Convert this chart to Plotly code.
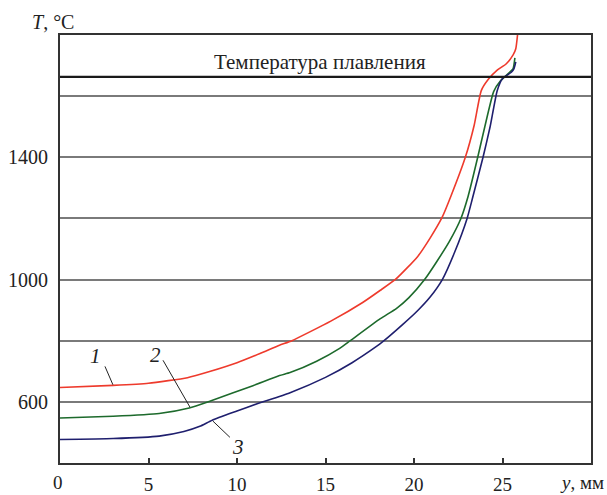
import plotly.graph_objects as go

# ---- data ----
x_tick_vals = [0, 5, 10, 15, 20, 25]
x_tick_text = ["0", "5", "10", "15", "20", "25"]
y_grid_vals = [600, 800, 1000, 1200, 1400, 1600]
y_tick_text = ["600", "", "1000", "", "1400", ""]
melting_temp = 1663
melting_label = "Температура плавления"

x1 = [0, 3, 5, 7.2, 8.5, 10, 11.3, 12.4, 13.1, 15.3, 17.1, 18.1, 19.0, 20.2, 20.9, 21.6,
      22.1, 22.9, 23.4, 23.8, 24.2, 24.7, 25.2, 25.6, 25.75, 25.9]
T1 = [647, 654, 661, 679, 700, 728, 758, 785, 800, 864, 925, 965, 1003, 1075, 1135, 1205,
      1275, 1400, 1505, 1618, 1655, 1685, 1705, 1735, 1755, 1830]

x2 = [0, 3, 5.6, 7.3, 8.5, 10.9, 12.4, 13.0, 14.5, 15.8, 16.4, 18.1, 19.0, 19.7, 20.6,
      21.3, 22.0, 22.65, 23.05, 23.6, 24.0, 24.5, 24.9, 25.4, 25.6, 25.7]
T2 = [547, 553, 562, 580, 603, 653, 686, 696, 733, 775, 800, 872, 905, 940, 1000,
      1060, 1125, 1200, 1271, 1400, 1500, 1615, 1651, 1678, 1690, 1725]

x3 = [0, 3, 5.6, 7.0, 7.9, 8.6, 10.0, 11.1, 13.0, 15.0, 16.5, 17.9, 18.2, 19.4, 20.2, 20.9,
      21.6, 22.3, 23.0, 23.3, 23.9, 24.3, 24.7, 25.0, 25.5, 25.65, 25.75]
T3 = [477, 480, 488, 503, 520, 540, 570, 593, 630, 680, 728, 782, 795, 855, 898, 942,
      1000, 1090, 1200, 1265, 1400, 1500, 1618, 1658, 1678, 1690, 1712]

curve_labels = ["1", "2", "3"]

FONT = "Liberation Serif"

fig = go.Figure()
for xs, ys, col in [(x1, T1, "#ee3a2c"), (x2, T2, "#1d6a2c"), (x3, T3, "#1f1f6e")]:
    fig.add_trace(go.Scatter(x=xs, y=ys, mode="lines",
                             line=dict(color=col, width=1.6, shape="spline", smoothing=0.5),
                             showlegend=False, hoverinfo="skip"))

# melting line
fig.add_shape(type="line", xref="paper", yref="y", x0=0, x1=1,
              y0=melting_temp, y1=melting_temp, line=dict(color="#1a1a1a", width=2.2),
              layer="above")
fig.add_annotation(x=14.7, y=melting_temp, xref="x", yref="y", text=melting_label,
                   showarrow=False, yanchor="bottom", yshift=1,
                   font=dict(family=FONT, size=21, color="#222"))

# curve labels with leader lines
label_pos = [(2.03, 749), (5.37, 752), (10.06, 451)]
leaders = [((2.54, 716), (2.99, 656)), ((5.82, 736), (7.34, 583)), ((9.6, 484), (8.64, 537))]
for lab, (lx, ly), ((ax0, ay0), (ax1, ay1)) in zip(curve_labels, label_pos, leaders):
    fig.add_annotation(x=lx, y=ly, text="<i>" + lab + "</i>", showarrow=False,
                       font=dict(family=FONT, size=21, color="#222"))
    fig.add_shape(type="line", xref="x", yref="y", x0=ax0, y0=ay0, x1=ax1, y1=ay1,
                  line=dict(color="#222", width=1))

# axis titles
fig.add_annotation(xref="paper", yref="paper", x=-0.013, y=1.0, yshift=13,
                   xanchor="center", yanchor="middle",
                   text="<i>T</i>, °C", showarrow=False,
                   font=dict(family=FONT, size=20, color="#222"))
fig.add_annotation(xref="paper", yref="paper", x=1.0, y=0, yshift=-19, xshift=15,
                   xanchor="right", yanchor="middle",
                   text="<i>y</i>, мм", showarrow=False,
                   font=dict(family=FONT, size=19, color="#222"))

fig.update_layout(
    width=607, height=495,
    margin=dict(l=60, r=16, t=35, b=32, autoexpand=False),
    paper_bgcolor="white", plot_bgcolor="white",
    font=dict(family=FONT, size=19, color="#222"),
    xaxis=dict(range=[0, 30], tickvals=x_tick_vals[1:], ticktext=x_tick_text[1:],
               ticks="inside", ticklen=5, tickwidth=1.5, tickcolor="#333",
               showgrid=False, zeroline=False,
               showline=True, linecolor="#333", linewidth=1.8, mirror=True,
               ticklabelstandoff=3, tickfont=dict(family=FONT, size=19)),
    yaxis=dict(range=[400, 1800], tickvals=y_grid_vals, ticktext=y_tick_text,
               ticks="", showgrid=True, gridcolor="#7a7a7a", gridwidth=1.5,
               zeroline=False, showline=True, linecolor="#333", linewidth=1.8,
               mirror=True, ticklabelstandoff=6, tickfont=dict(family=FONT, size=20)),
)
# "0" label at origin
fig.add_annotation(xref="x", yref="paper", x=0, y=0, yshift=-19, xshift=-2,
                   yanchor="middle", text="0",
                   showarrow=False, font=dict(family=FONT, size=19, color="#222"))

fig.write_html("out.html")
